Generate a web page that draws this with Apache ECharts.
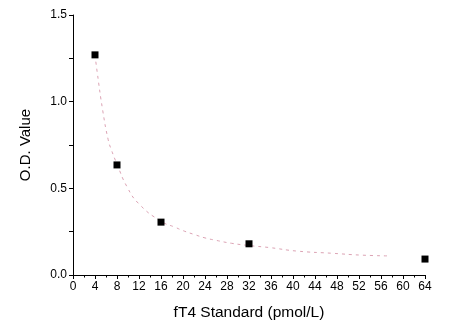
<!DOCTYPE html>
<html>
<head>
<meta charset="utf-8">
<script src="https://cdn.jsdelivr.net/npm/echarts@6/dist/echarts.min.js"></script>
<style>html,body{margin:0;padding:0;background:#fff;}#c{width:468px;height:329px;}</style>
</head>
<body>
<div id="c"></div>
<script>
// Measured standards
const stdConc = [4, 8, 16, 32, 64];
const stdOD = [1.27, 0.635, 0.305, 0.18, 0.092];
// Fitted curve
const curveX = [4, 4.4, 5.4, 6.4, 7, 8, 9.8, 12, 16, 18.6, 20, 22.3, 24, 26, 28.8, 32, 35.8, 40.7, 47.3, 52.2, 57.6];
const curveY = [1.27, 1.17, 0.95, 0.78, 0.72, 0.64, 0.51, 0.41, 0.31, 0.275, 0.256, 0.231, 0.214, 0.2, 0.183, 0.17, 0.158, 0.138, 0.125, 0.115, 0.11];
const xTitle = 'fT4 Standard (pmol/L)';
const yTitle = 'O.D. Value';

const chart = echarts.init(document.getElementById('c'), null, {renderer: 'canvas'});
const font = '"Liberation Sans", Arial, sans-serif';
chart.setOption({
  animation: false,
  backgroundColor: '#fff',
  grid: {left: 73, right: 43, top: 15, bottom: 54},
  xAxis: {
    type: 'value', min: 0, max: 64, interval: 4,
    name: xTitle, nameLocation: 'middle', nameGap: 30,
    nameTextStyle: {fontFamily: font, fontSize: 15.5, color: '#000'},
    axisLine: {show: true, onZero: false, lineStyle: {color: '#000', width: 1}},
    axisTick: {show: true, length: 4, lineStyle: {color: '#000'}},
    minorTick: {show: true, splitNumber: 2, length: 2.5, lineStyle: {color: '#000'}},
    axisLabel: {fontFamily: font, fontSize: 12, color: '#000', margin: 6},
    splitLine: {show: false}
  },
  yAxis: {
    type: 'value', min: 0, max: 1.5, interval: 0.5,
    name: yTitle, nameLocation: 'middle', nameGap: 40, nameRotate: 90,
    nameTextStyle: {fontFamily: font, fontSize: 15, color: '#000'},
    axisLine: {show: true, onZero: false, lineStyle: {color: '#000', width: 1}},
    axisTick: {show: true, length: 4, lineStyle: {color: '#000'}},
    minorTick: {show: true, splitNumber: 2, length: 4, lineStyle: {color: '#000'}},
    axisLabel: {fontFamily: font, fontSize: 12, color: '#000', margin: 6,
      formatter: v => v.toFixed(1)},
    splitLine: {show: false}
  },
  series: [
    {
      type: 'line', smooth: true, symbol: 'none',
      data: curveX.map((x, i) => [x, curveY[i]]),
      lineStyle: {color: '#dca3b4', width: 1, type: [3, 4]},
      z: 1
    },
    {
      type: 'scatter', symbol: 'rect', symbolSize: 7,
      data: stdConc.map((x, i) => [x, stdOD[i]]),
      itemStyle: {color: '#000', opacity: 1},
      z: 2
    }
  ]
});
</script>
</body>
</html>
